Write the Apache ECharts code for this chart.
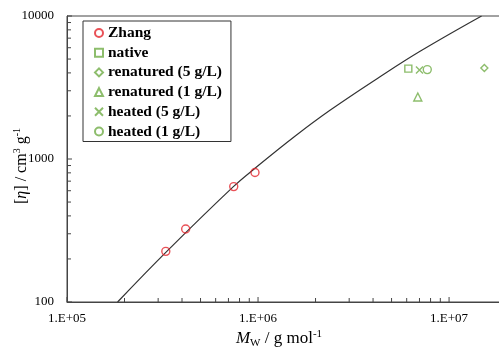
<!DOCTYPE html>
<html>
<head>
<meta charset="utf-8">
<script src="https://cdn.jsdelivr.net/npm/echarts@6/dist/echarts.min.js"></script>
</head>
<body style="margin:0;background:#fff">
<div id="chart" style="width:499px;height:347px;"></div>
<script>
// values (log-log axes)
var zhangMw = [3.29e5, 4.18e5, 7.46e5, 9.64e5];
var zhangEta = [226, 324, 641, 804];
var nativePt = [6.12e6, 4285];
var renat5Pt = [1.53e7, 4326];
var renat1Pt = [6.86e6, 2716];
var heat5Pt = [7.0e6, 4188];
var heat1Pt = [7.69e6, 4218];

// fitted curve, points
var fitMw = [1.84e5, 3.33e5, 7.43e5, 9.64e5, 1.56e6, 2.38e6, 4.35e6, 7.05e6, 1.48e7];
var fitEta = [100, 226, 641, 861, 1442, 2190, 3758, 5664, 10000];

var xMin = 1e5, xMax = 1.87e7, yMin = 100, yMax = 10000;
var xMajorTicks = [1e5, 1e6, 1e7];
var xMinorTicks = [2e5, 3e5, 4e5, 5e5, 6e5, 7e5, 8e5, 9e5,
                   2e6, 3e6, 4e6, 5e6, 6e6, 7e6, 8e6, 9e6];
var yMajorTicks = [100, 1000, 10000];
var yMinorTicks = [200, 300, 400, 500, 600, 700, 800, 900,
                   2000, 3000, 4000, 5000, 6000, 7000, 8000, 9000];

var legendNames = ['Zhang', 'native', 'renatured (5 g/L)', 'renatured (1 g/L)', 'heated (5 g/L)', 'heated (1 g/L)'];

var RED = '#e3262d', GREEN = '#70ad47', AXIS = '#444';
var SERIF = '"Liberation Serif", "Times New Roman", serif';

function zip(a, b) {
    var out = [];
    for (var i = 0; i < a.length; i++) out.push([a[i], b[i]]);
    return out;
}

function tickSeries(values, onX, len) {
    var data = values.map(function (v) { return onX ? [v, yMin] : [xMin, v]; });
    return {
        type: 'custom',
        silent: true,
        clip: false,
        data: data,
        renderItem: function (params, api) {
            var p = api.coord([api.value(0), api.value(1)]);
            var shape = onX
                ? {x1: p[0], y1: p[1], x2: p[0], y2: p[1] - len}
                : {x1: p[0], y1: p[1], x2: p[0] + len, y2: p[1]};
            return {type: 'line', shape: shape, style: {stroke: AXIS, lineWidth: 1}};
        },
        z: 1
    };
}

function marker(name, symbol, size, color, data) {
    return {
        name: name,
        type: 'scatter',
        symbol: symbol,
        symbolSize: size,
        data: data,
        itemStyle: {color: 'transparent', borderColor: color, borderWidth: 1.4},
        z: 5
    };
}

var chart = echarts.init(document.getElementById('chart'));

var option = {
    animation: false,
    backgroundColor: '#fff',
    grid: {
        left: 67, top: 16, right: -2, bottom: 45,
        containLabel: false,
        outerBoundsMode: 'none',
        show: true, borderColor: AXIS, borderWidth: 1, backgroundColor: 'transparent'
    },
    legend: {
        orient: 'vertical',
        left: 83, top: 21,
        padding: [4, 9, 2, 11],
        itemGap: 3.7,
        itemWidth: 8, itemHeight: 8,
        borderColor: '#333', borderWidth: 1,
        data: legendNames,
        textStyle: {fontFamily: SERIF, fontWeight: 'bold', fontSize: 15.5, color: '#000'}
    },
    xAxis: {
        type: 'log',
        logBase: 10,
        min: xMin, max: xMax,
        name: '{i|M}{sub|W}{n| / g mol}{sup|-1}',
        nameLocation: 'middle',
        nameGap: 27,
        nameMoveOverlap: false,
        nameTextStyle: {
            padding: [0, 10, 0, 0],
            rich: {
                i: {fontFamily: SERIF, fontStyle: 'italic', fontSize: 17, color: '#000', lineHeight: 20},
                n: {fontFamily: SERIF, fontSize: 17, color: '#000', lineHeight: 20},
                sub: {fontFamily: SERIF, fontSize: 11, color: '#000', lineHeight: 10, verticalAlign: 'bottom'},
                sup: {fontFamily: SERIF, fontSize: 11, color: '#000', lineHeight: 10, verticalAlign: 'top'}
            }
        },
        axisLine: {show: true, lineStyle: {color: AXIS, width: 1}},
        axisTick: {show: false},
        splitLine: {show: false},
        minorTick: {show: false},
        axisLabel: {
            showMaxLabel: false,
            margin: 10,
            fontFamily: SERIF, fontSize: 13, color: '#000',
            formatter: function (v) {
                var e = Math.round(Math.log10(v));
                return '1.E+' + (e < 10 ? '0' : '') + e;
            }
        }
    },
    yAxis: {
        type: 'log',
        logBase: 10,
        min: yMin, max: yMax,
        name: '{n|[}{i|η}{n|] / cm}{sup|3}{n| g}{sup|-1}',
        nameLocation: 'middle',
        nameRotate: 90,
        nameGap: 35,
        nameMoveOverlap: false,
        nameTextStyle: {
            padding: [0, 14, 0, 0],
            rich: {
                i: {fontFamily: SERIF, fontStyle: 'italic', fontSize: 16, color: '#000', lineHeight: 20},
                n: {fontFamily: SERIF, fontSize: 16, color: '#000', lineHeight: 20},
                sup: {fontFamily: SERIF, fontSize: 10, color: '#000', lineHeight: 10, verticalAlign: 'top'}
            }
        },
        axisLine: {show: true, lineStyle: {color: AXIS, width: 1}},
        axisTick: {show: false},
        splitLine: {show: false},
        minorTick: {show: false},
        axisLabel: {
            margin: 13,
            fontFamily: SERIF, fontSize: 13, color: '#000',
            formatter: function (v) { return String(Math.round(v)); }
        }
    },
    series: [
        tickSeries(xMajorTicks, true, 5),
        tickSeries(xMinorTicks, true, 4),
        tickSeries(yMajorTicks, false, 5),
        tickSeries(yMinorTicks, false, 4),
        {
            name: 'fit',
            type: 'line',
            data: zip(fitMw, fitEta),
            smooth: 0.4,
            showSymbol: false,
            symbol: 'none',
            lineStyle: {color: '#333', width: 1.2},
            z: 3
        },
        marker('Zhang', 'circle', 8, RED, zip(zhangMw, zhangEta)),
        marker('native', 'rect', 7, GREEN, [nativePt]),
        marker('renatured (5 g/L)', 'diamond', 7, GREEN, [renat5Pt]),
        marker('renatured (1 g/L)', 'triangle', 8, GREEN, [renat1Pt]),
        marker('heated (5 g/L)', 'path://M0,0L10,10M10,0L0,10', 7, GREEN, [heat5Pt]),
        marker('heated (1 g/L)', 'circle', 8, GREEN, [heat1Pt])
    ]
};

chart.setOption(option);
</script>
</body>
</html>
